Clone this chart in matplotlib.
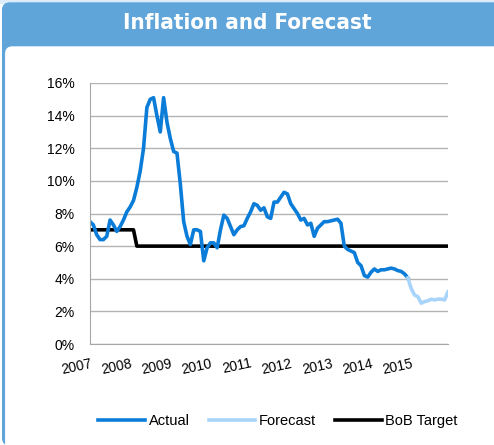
import matplotlib.pyplot as plt
from matplotlib.patches import Rectangle, FancyBboxPatch
from matplotlib.ticker import PercentFormatter

# monthly inflation, Jan 2007 .. Dec 2015 (percent)
actual = [7.5, 7.3, 6.7, 6.4, 6.4, 6.6, 7.6, 7.3, 6.9, 7.2, 7.6, 8.1,
          8.4, 8.8, 9.6, 10.6, 12.0, 14.5, 15.0, 15.1, 14.0, 13.0, 15.1, 13.6,
          12.6, 11.8, 11.7, 9.8, 7.5, 6.6, 6.1, 7.0, 7.0, 6.9, 5.1, 5.9,
          6.2, 6.2, 5.9, 7.0, 7.9, 7.7, 7.2, 6.7, 7.0, 7.2, 7.25, 7.7,
          8.1, 8.6, 8.5, 8.2, 8.35, 7.8, 7.7, 8.7, 8.7, 9.0, 9.3, 9.2,
          8.6, 8.3, 8.0, 7.6, 7.7, 7.3, 7.4, 6.6, 7.1, 7.3, 7.5, 7.5,
          7.55, 7.6, 7.65, 7.4, 6.0, 5.8, 5.7, 5.6, 5.0, 4.8, 4.2, 4.1,
          4.4, 4.6, 4.45, 4.55, 4.55, 4.6, 4.65, 4.6, 4.5, 4.45, 4.3, 4.05]
forecast = [4.05, 3.4, 3.0, 2.9, 2.5, 2.6, 2.65, 2.75, 2.7, 2.75, 2.75, 2.7, 3.2]
target = [7.0] * 14 + [6.0] * 94
years = ["2007", "2008", "2009", "2010", "2011", "2012", "2013", "2014", "2015"]

actual_x = list(range(len(actual)))
forecast_x = list(range(len(actual) - 1, len(actual) - 1 + len(forecast)))
target_x = list(range(len(target)))

fig = plt.figure(figsize=(4.94, 4.45), dpi=100)
W, H = 494, 445

# header band and frame
fig.patches.append(Rectangle((0, 1 - 3 / H), 1, 3 / H, transform=fig.transFigure,
                             color="#dcedf9", zorder=0))
fig.patches.append(FancyBboxPatch((2.7 / W, 0), 1.2, 1 - 3 / H,
                                  boxstyle="round,pad=0,rounding_size=0.015",
                                  transform=fig.transFigure, color="#5fa5da", zorder=0))
fig.patches.append(FancyBboxPatch((5.8 / W, -0.1), 1.2, 0.1 + 1 - 47 / H,
                                  boxstyle="round,pad=0,rounding_size=0.014",
                                  transform=fig.transFigure, color="white", zorder=1))
fig.text(0.5, 1 - 23 / H, "Inflation and Forecast", ha="center", va="center",
         color="white", fontsize=16, fontweight="bold", fontstretch="condensed",
         family="DejaVu Sans", zorder=2)

ax = fig.add_axes([90 / W, 1 - 344 / H, 358 / W, 261 / H])
ax.set_zorder(3)
ax.plot(target_x, [v / 100 for v in target], color="black", lw=2.6, label="BoB Target")
ax.plot(actual_x, [v / 100 for v in actual], color="#0b7dd8", lw=2.6, label="Actual")
ax.plot(forecast_x, [v / 100 for v in forecast], color="#a8d4fa", lw=2.6, label="Forecast")

ax.set_xlim(0, 107)
ax.set_ylim(0, 0.16)
ax.set_yticks([i / 100 for i in range(0, 17, 2)])
ax.yaxis.set_major_formatter(PercentFormatter(1.0, decimals=0))
ax.set_xticks(range(0, 97, 12))
ax.set_xticklabels(years, rotation=12, ha="right", va="top", rotation_mode="anchor")
ax.tick_params(length=0, labelsize=10, colors="black")
ax.tick_params(axis="y", pad=11)
ax.tick_params(axis="x", pad=9)
for t in ax.get_xticklabels() + ax.get_yticklabels():
    t.set_family("Liberation Sans")
ax.grid(axis="y", color="#b3b3b3", lw=1)
ax.set_axisbelow(True)
for s in ["top", "right"]:
    ax.spines[s].set_visible(False)
for s in ["left", "bottom"]:
    ax.spines[s].set_color("#a6a6a6")

h, l = ax.get_legend_handles_labels()
order = [1, 2, 0]
fig.legend([h[i] for i in order], [l[i] for i in order], loc="center",
           bbox_to_anchor=(278 / W, 1 - 421 / H), ncol=3, frameon=False,
           prop={"family": "Liberation Sans", "size": 10.5},
           handlelength=3.2, handletextpad=0.25, columnspacing=1.3)

fig.savefig("out.png", dpi=100)
